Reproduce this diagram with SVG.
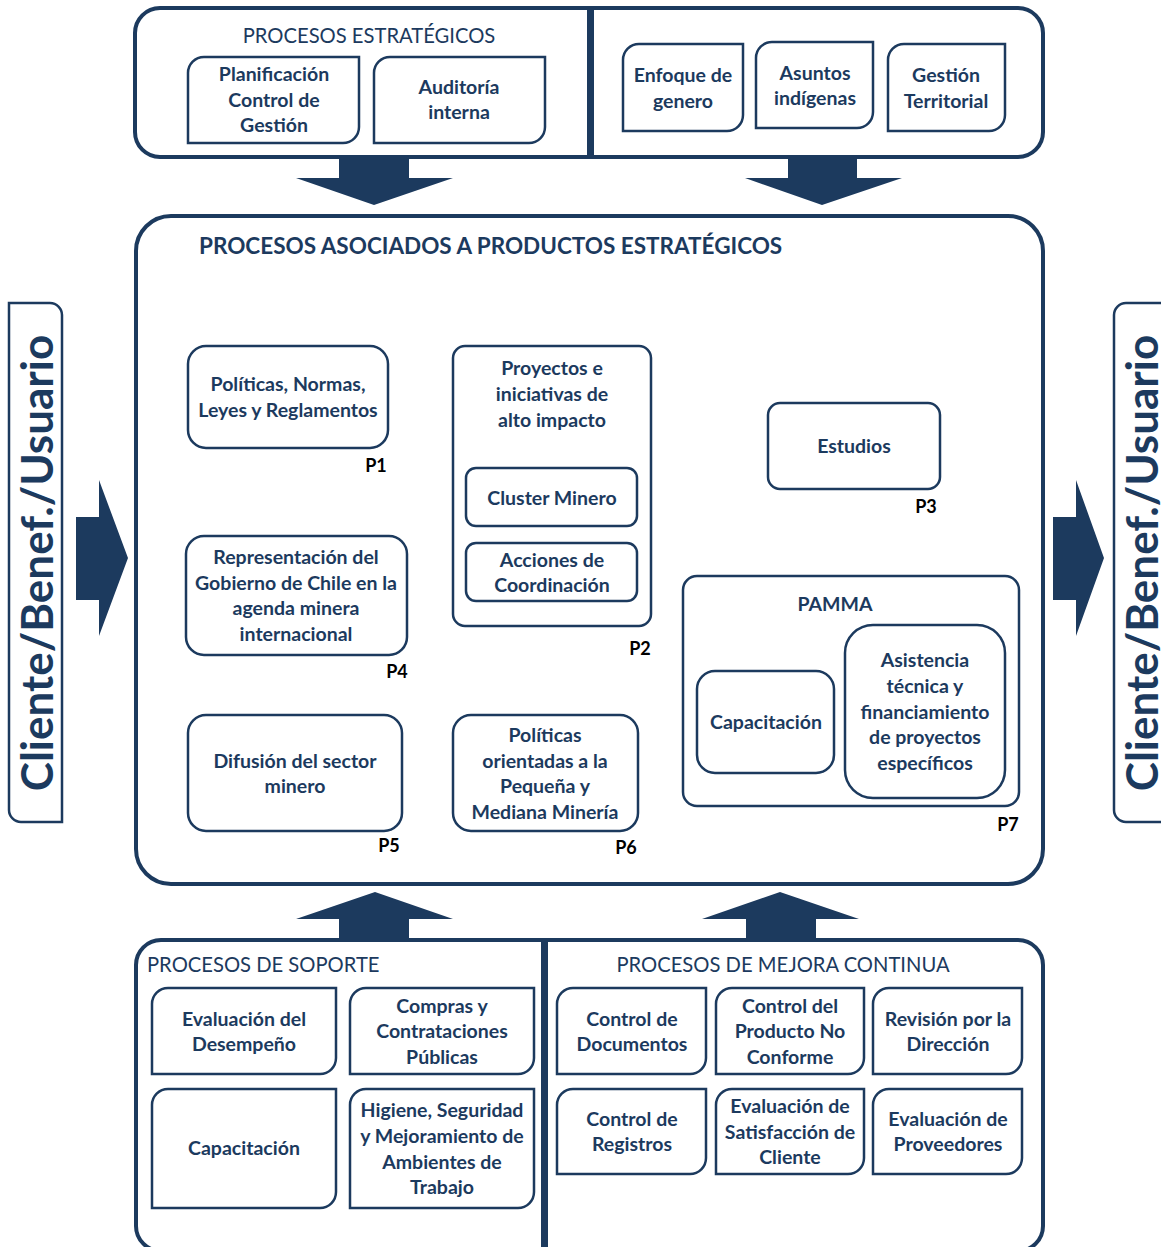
<svg xmlns="http://www.w3.org/2000/svg" width="1161" height="1247" viewBox="0 0 1161 1247">
<style>
.c{fill:none;stroke:#1c3a5e;stroke-width:4}
.b{fill:#fff;stroke:#1c3a5e;stroke-width:2.5}
.t{font-family:Lato,"Liberation Sans",sans-serif;font-weight:bold;font-size:19.5px;fill:#1c3a5e;text-anchor:middle}
.h{font-family:Lato,"Liberation Sans",sans-serif;font-size:20.2px;fill:#1c3a5e}
.hb{font-family:Lato,"Liberation Sans",sans-serif;font-size:22.5px;font-weight:bold;fill:#1c3a5e}
.p{font-family:Lato,"Liberation Sans",sans-serif;font-weight:bold;font-size:18px;fill:#000;text-anchor:middle}
.a{fill:#1c3a5e}
.v{font-family:Lato,"Liberation Sans",sans-serif;font-weight:bold;font-size:44px;fill:#1c3a5e;text-anchor:middle}
</style>
<rect width="1161" height="1247" fill="#fff"/>

<!-- containers -->
<g id="estrategicos">
<path class="c" d="M589,8 H160 A25,25 0 0 0 135,33 V132 A25,25 0 0 0 160,157 H589 Z"/>
<text class="h" x="369" y="43" text-anchor="middle">PROCESOS ESTRATÉGICOS</text>
</g>
<g id="transversales">
<path class="c" d="M592,8 H1018 A25,25 0 0 1 1043,33 V132 A25,25 0 0 1 1018,157 H592 Z"/>
</g>
<g id="asociados">
<rect class="c" x="136" y="216" width="907" height="668" rx="35"/>
<text class="hb" x="199" y="254">PROCESOS ASOCIADOS A PRODUCTOS ESTRATÉGICOS</text>
</g>
<g id="soporte">
<path class="c" d="M543,940 H161 A25,25 0 0 0 136,965 V1226 A25,25 0 0 0 161,1251 H543 Z"/>
<text class="h" x="147" y="972">PROCESOS DE SOPORTE</text>
</g>
<g id="mejora">
<path class="c" d="M546,940 H1018 A25,25 0 0 1 1043,965 V1226 A25,25 0 0 1 1018,1251 H546 Z"/>
<text class="h" x="783" y="972" text-anchor="middle">PROCESOS DE MEJORA CONTINUA</text>
</g>

<!-- strategic boxes -->
<g id="planificacion"><path class="b" d="M204,57 H359 V127 A16,16 0 0 1 343,143 H188 V73 A16,16 0 0 1 204,57 Z"/>
<text class="t" x="274" y="81">Planificación</text><text class="t" x="274" y="107">Control de</text><text class="t" x="274" y="132">Gestión</text></g>
<g id="auditoria"><path class="b" d="M390,57 H545 V127 A16,16 0 0 1 529,143 H374 V73 A16,16 0 0 1 390,57 Z"/>
<text class="t" x="459" y="94">Auditoría</text><text class="t" x="459" y="119">interna</text></g>
<g id="enfoque"><path class="b" d="M639,44 H743 V115 A16,16 0 0 1 727,131 H623 V60 A16,16 0 0 1 639,44 Z"/>
<text class="t" x="683" y="82">Enfoque de</text><text class="t" x="683" y="108">genero</text></g>
<g id="asuntos"><path class="b" d="M772,42 H873 V112 A16,16 0 0 1 857,128 H756 V58 A16,16 0 0 1 772,42 Z"/>
<text class="t" x="815" y="80">Asuntos</text><text class="t" x="815" y="105">indígenas</text></g>
<g id="gestion"><path class="b" d="M904,44 H1005 V115 A16,16 0 0 1 989,131 H888 V60 A16,16 0 0 1 904,44 Z"/>
<text class="t" x="946" y="82">Gestión</text><text class="t" x="946" y="108">Territorial</text></g>

<!-- product processes -->
<g id="p1"><rect class="b" x="188" y="346" width="200" height="102" rx="18"/>
<text class="t" x="288" y="391">Políticas, Normas,</text><text class="t" x="288" y="417">Leyes y Reglamentos</text>
<text class="p" x="376" y="472">P1</text></g>
<g id="p2"><rect class="b" x="453" y="346" width="198" height="280" rx="12"/>
<text class="t" x="552" y="375">Proyectos e</text><text class="t" x="552" y="401">iniciativas de</text><text class="t" x="552" y="427">alto impacto</text>
<text class="p" x="640" y="655">P2</text></g>
<g id="cluster"><rect class="b" x="466" y="468" width="171" height="58" rx="10"/>
<text class="t" x="552" y="505">Cluster Minero</text></g>
<g id="acciones"><rect class="b" x="466" y="543" width="171" height="58" rx="10"/>
<text class="t" x="552" y="567">Acciones de</text><text class="t" x="552" y="592">Coordinación</text></g>
<g id="p3"><rect class="b" x="768" y="403" width="172" height="86" rx="12"/>
<text class="t" x="854" y="453">Estudios</text>
<text class="p" x="926" y="513">P3</text></g>
<g id="p4"><rect class="b" x="186" y="536" width="221" height="119" rx="18"/>
<text class="t" x="296" y="564">Representación del</text><text class="t" x="296" y="590">Gobierno de Chile en la</text><text class="t" x="296" y="615">agenda minera</text><text class="t" x="296" y="641">internacional</text>
<text class="p" x="397" y="678">P4</text></g>
<g id="p5"><rect class="b" x="188" y="715" width="214" height="116" rx="18"/>
<text class="t" x="295" y="768">Difusión del sector</text><text class="t" x="295" y="793">minero</text>
<text class="p" x="389" y="852">P5</text></g>
<g id="p6"><rect class="b" x="453" y="715" width="185" height="116" rx="18"/>
<text class="t" x="545" y="742">Políticas</text><text class="t" x="545" y="768">orientadas a la</text><text class="t" x="545" y="793">Pequeña y</text><text class="t" x="545" y="819">Mediana Minería</text>
<text class="p" x="626" y="854">P6</text></g>
<g id="p7"><rect class="b" x="683" y="576" width="336" height="230" rx="14"/>
<text class="t" x="835" y="611">PAMMA</text>
<text class="p" x="1008" y="831">P7</text></g>
<g id="capacitacion-pamma"><rect class="b" x="697" y="671" width="137" height="102" rx="18"/>
<text class="t" x="766" y="729">Capacitación</text></g>
<g id="asistencia"><rect class="b" x="845" y="625" width="160" height="173" rx="28"/>
<text class="t" x="925" y="667">Asistencia</text><text class="t" x="925" y="693">técnica y</text><text class="t" x="925" y="719">financiamiento</text><text class="t" x="925" y="744">de proyectos</text><text class="t" x="925" y="770">específicos</text></g>

<!-- support boxes -->
<g id="evaluacion-desempeno"><path class="b" d="M168,988 H336 V1058 A16,16 0 0 1 320,1074 H152 V1004 A16,16 0 0 1 168,988 Z"/>
<text class="t" x="244" y="1026">Evaluación del</text><text class="t" x="244" y="1051">Desempeño</text></g>
<g id="compras"><path class="b" d="M366,988 H534 V1058 A16,16 0 0 1 518,1074 H350 V1004 A16,16 0 0 1 366,988 Z"/>
<text class="t" x="442" y="1013">Compras y</text><text class="t" x="442" y="1038">Contrataciones</text><text class="t" x="442" y="1064">Públicas</text></g>
<g id="capacitacion"><path class="b" d="M168,1089 H336 V1192 A16,16 0 0 1 320,1208 H152 V1105 A16,16 0 0 1 168,1089 Z"/>
<text class="t" x="244" y="1155">Capacitación</text></g>
<g id="higiene"><path class="b" d="M366,1089 H534 V1192 A16,16 0 0 1 518,1208 H350 V1105 A16,16 0 0 1 366,1089 Z"/>
<text class="t" x="442" y="1117">Higiene, Seguridad</text><text class="t" x="442" y="1143">y Mejoramiento de</text><text class="t" x="442" y="1169">Ambientes de</text><text class="t" x="442" y="1194">Trabajo</text></g>

<!-- improvement boxes -->
<g id="control-documentos"><path class="b" d="M573,988 H706 V1058 A16,16 0 0 1 690,1074 H557 V1004 A16,16 0 0 1 573,988 Z"/>
<text class="t" x="632" y="1026">Control de</text><text class="t" x="632" y="1051">Documentos</text></g>
<g id="control-producto"><path class="b" d="M732,988 H864 V1058 A16,16 0 0 1 848,1074 H716 V1004 A16,16 0 0 1 732,988 Z"/>
<text class="t" x="790" y="1013">Control del</text><text class="t" x="790" y="1038">Producto No</text><text class="t" x="790" y="1064">Conforme</text></g>
<g id="revision"><path class="b" d="M889,988 H1022 V1058 A16,16 0 0 1 1006,1074 H873 V1004 A16,16 0 0 1 889,988 Z"/>
<text class="t" x="948" y="1026">Revisión por la</text><text class="t" x="948" y="1051">Dirección</text></g>
<g id="control-registros"><path class="b" d="M573,1089 H706 V1158 A16,16 0 0 1 690,1174 H557 V1105 A16,16 0 0 1 573,1089 Z"/>
<text class="t" x="632" y="1126">Control de</text><text class="t" x="632" y="1151">Registros</text></g>
<g id="satisfaccion"><path class="b" d="M732,1089 H864 V1158 A16,16 0 0 1 848,1174 H716 V1105 A16,16 0 0 1 732,1089 Z"/>
<text class="t" x="790" y="1113">Evaluación de</text><text class="t" x="790" y="1139">Satisfacción de</text><text class="t" x="790" y="1164">Cliente</text></g>
<g id="proveedores"><path class="b" d="M889,1089 H1022 V1158 A16,16 0 0 1 1006,1174 H873 V1105 A16,16 0 0 1 889,1089 Z"/>
<text class="t" x="948" y="1126">Evaluación de</text><text class="t" x="948" y="1151">Proveedores</text></g>

<!-- client boxes -->
<g id="cliente-izq"><path class="b" d="M9,303 H50 A12,12 0 0 1 62,315 V822 H21 A12,12 0 0 1 9,810 Z"/>
<text class="v" transform="translate(53,563) rotate(-90)">Cliente/Benef./Usuario</text></g>
<g id="cliente-der"><path class="b" d="M1126,303 H1163 V822 H1126 A12,12 0 0 1 1114,810 V315 A12,12 0 0 1 1126,303 Z"/>
<text class="v" transform="translate(1158,563) rotate(-90)">Cliente/Benef./Usuario</text></g>

<!-- connectors -->
<g id="connectors">
<polygon class="a" points="339,157 409,157 409,178 453,178 374,205 296,178 339,178"/>
<polygon class="a" points="788,157 857,157 857,178 902,178 822,205 745,178 788,178"/>
<polygon class="a" points="339,940 409,940 409,919 453,919 375,892 296,919 339,919"/>
<polygon class="a" points="746,940 816,940 816,919 859,919 780,892 702,919 746,919"/>
<polygon class="a" points="76,517 99,517 99,480 128,558 99,636 99,600 76,600"/>
<polygon class="a" points="1053,517 1076,517 1076,480 1104,558 1076,636 1076,600 1053,600"/>
</g>
</svg>
